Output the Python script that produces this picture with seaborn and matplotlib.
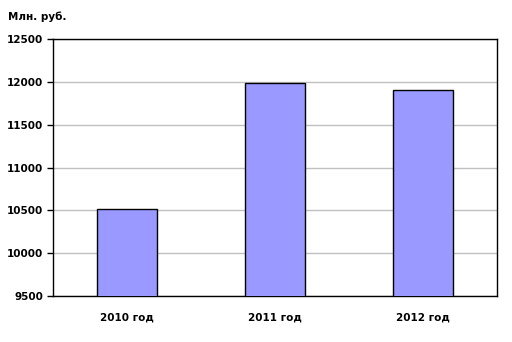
import matplotlib
matplotlib.use("Agg")
import matplotlib.pyplot as plt
import seaborn as sns
import pandas as pd

categories = ["2010 год", "2011 год", "2012 год"]
values = [10510, 11985, 11900]
yticks = [9500, 10000, 10500, 11000, 11500, 12000, 12500]

sns.set_style("white")
plt.rcParams['font.family'] = ['DejaVu Sans']
plt.rcParams['text.color'] = 'black'
plt.rcParams['xtick.color'] = 'black'
plt.rcParams['ytick.color'] = 'black'

df = pd.DataFrame({"cat": categories, "val": values})
fig = plt.figure(figsize=(5.12, 3.42), dpi=100)
ax = fig.add_axes([53/512, 1-296/342, 444/512, 257/342])
sns.barplot(data=df, x="cat", y="val", color="#9999ff", saturation=1,
            width=0.41, edgecolor="black", linewidth=1, ax=ax, zorder=3)
ax.set_ylim(9500, 12500)
ax.set_xlim(-0.5, 2.5)
ax.set_yticks(yticks)
ax.set_yticklabels([str(t) for t in yticks], fontsize=7.5, fontweight="bold", color="black")
ax.set_xticks([0, 1, 2])
ax.set_xticklabels(categories, fontsize=7.5, fontweight="bold", color="black")
ax.set_xticks([-0.5, 0.5, 1.5, 2.5], minor=True)
ax.tick_params(axis="x", which="major", length=0, pad=12)
ax.tick_params(axis="x", which="minor", length=4, direction="out", width=1, color="black")
ax.tick_params(axis="y", length=4, direction="out", width=1, color="black", pad=3, left=True)
ax.grid(axis="y", color="#c0c0c0", linewidth=1, zorder=0)
ax.set_axisbelow(True)
for s in ax.spines.values():
    s.set_visible(True)
    s.set_color("black")
    s.set_linewidth(1)
ax.set_xlabel("")
ax.set_ylabel("")
fig.text(8/512, 1-17/342, "Млн. руб.", fontsize=7.5, fontweight="bold", va="center", ha="left", color="black")
fig.savefig("out.png", dpi=100)
